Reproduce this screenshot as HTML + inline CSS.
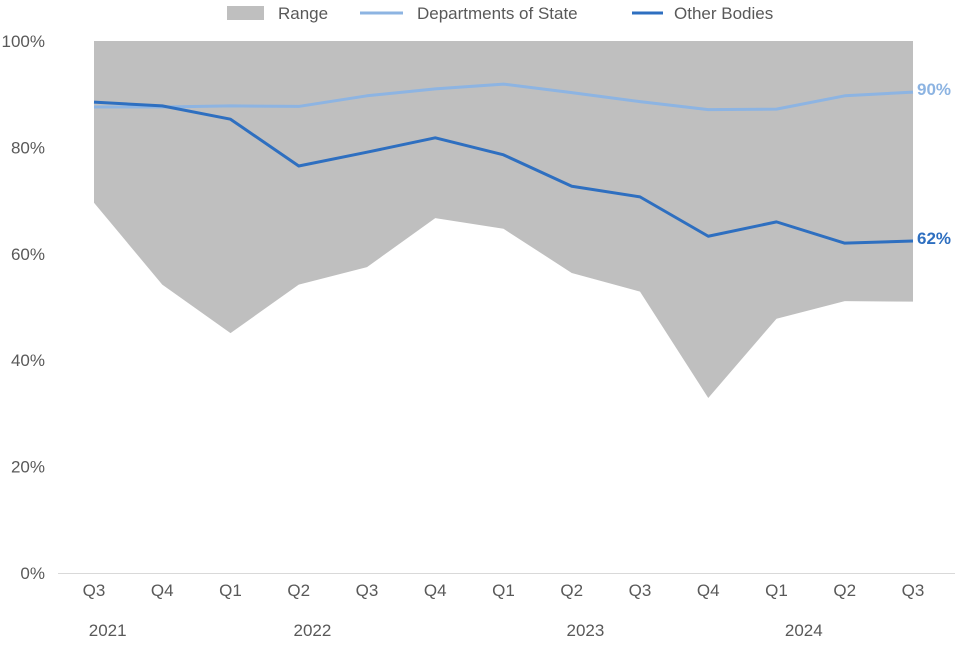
<!DOCTYPE html>
<html><head><meta charset="utf-8"><style>
body{margin:0;background:#fff;font-family:"Liberation Sans",sans-serif;}
svg text{font-family:"Liberation Sans",sans-serif;}
</style></head><body>
<svg id="chart" width="960" height="640" xmlns="http://www.w3.org/2000/svg">
<g id="legend">
<rect x="227" y="6" width="37" height="14" fill="#bfbfbf"/>
<text x="278" y="19" font-size="17" fill="#595959">Range</text>
<line x1="360" y1="13" x2="403" y2="13" stroke="#8db4e2" stroke-width="3"/>
<text x="417" y="19" font-size="17" fill="#595959">Departments of State</text>
<line x1="632" y1="13" x2="663" y2="13" stroke="#2e6fc0" stroke-width="3"/>
<text x="674" y="19" font-size="17" fill="#595959">Other Bodies</text>
</g>
<g id="plot"></g>
</svg>
<script>
const quarters=["Q3","Q4","Q1","Q2","Q3","Q4","Q1","Q2","Q3","Q4","Q1","Q2","Q3"];
const years=[["2021",0.2],["2022",3.2],["2023",7.2],["2024",10.4]];
const rangeLow=[69.6,54.2,45.1,54.2,57.5,66.7,64.7,56.4,52.9,32.9,47.8,51.1,51.0];
const rangeHigh=[100,100,100,100,100,100,100,100,100,100,100,100,100];
const depts=[87.6,87.6,87.8,87.7,89.7,91.0,91.9,90.3,88.6,87.1,87.2,89.7,90.4];
const other=[88.5,87.8,85.3,76.5,79.1,81.8,78.6,72.7,70.7,63.3,66.0,62.0,62.4];
const yTicks=[0,20,40,60,80,100];
const NS="http://www.w3.org/2000/svg";
const g=document.getElementById('plot');
const x=i=>94+i*68.25;
const y=v=>573-v*5.32;
function el(t,a){const e=document.createElementNS(NS,t);for(const k in a)e.setAttribute(k,a[k]);g.appendChild(e);return e;}
let pts=rangeHigh.map((v,i)=>x(i)+","+y(v)).concat(rangeLow.map((v,i)=>x(i)+","+y(v)).reverse());
const area=el('polygon',{points:pts.join(" "),fill:"#bfbfbf"});


const axis=el('line',{x1:58,y1:573.5,x2:955,y2:573.5,stroke:"#d9d9d9","stroke-width":1});


yTicks.forEach(v=>{const t=el('text',{x:45,y:y(v)+6,"text-anchor":"end","font-size":17,fill:"#595959"});t.textContent=v+"%";

});
quarters.forEach((q,i)=>{const t=el('text',{x:x(i),y:596,"text-anchor":"middle","font-size":17,fill:"#595959"});t.textContent=q;

});
years.forEach(([s,p])=>{const t=el('text',{x:x(p),y:636,"text-anchor":"middle","font-size":17,fill:"#595959"});t.textContent=s;

});
function line(d,c,name){const l=el('polyline',{points:d.map((v,i)=>x(i)+","+y(v)).join(" "),fill:"none",stroke:c,"stroke-width":3,"stroke-linejoin":"round"});


const t=el('text',{x:x(d.length-1)+4,y:y(d[d.length-1])+3,"font-size":17,"font-weight":"bold",fill:c});t.textContent=Math.round(d[d.length-1])+"%";

}
line(depts,"#8db4e2","departments-line");
line(other,"#2e6fc0","other-bodies-line");
</script>
</body></html>
